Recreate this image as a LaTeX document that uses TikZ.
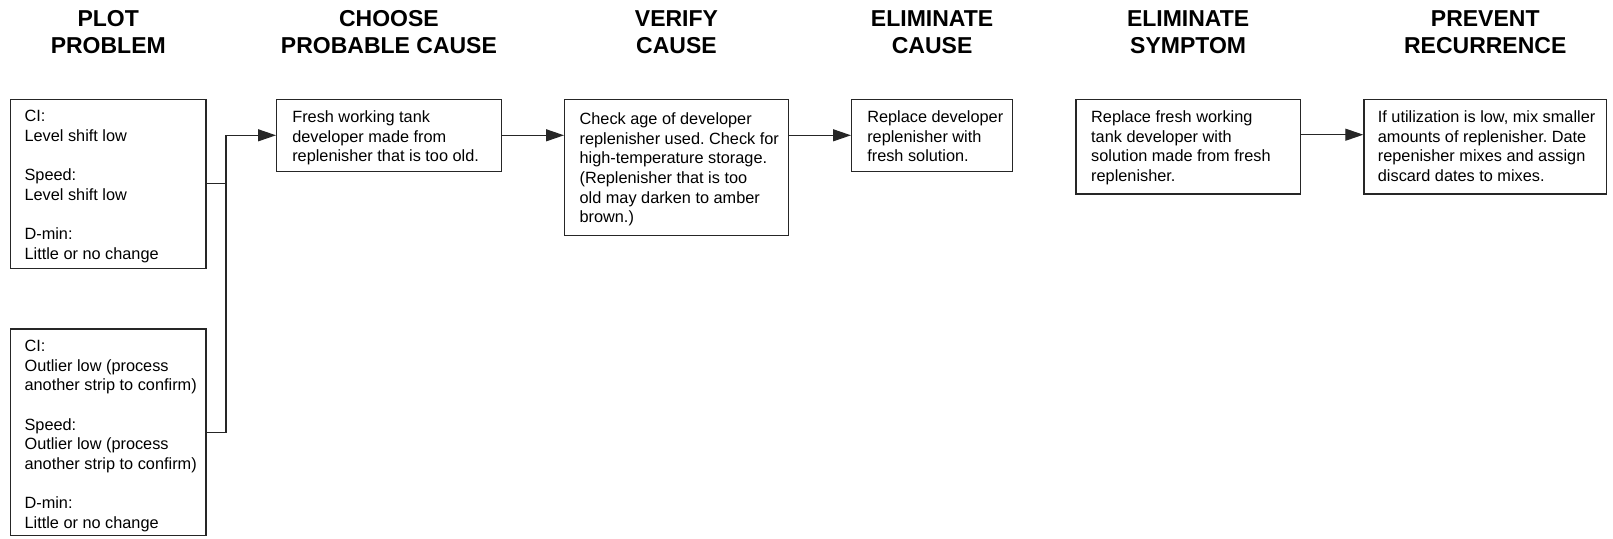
\documentclass[tikz,border=0pt]{standalone}
\usepackage{fontspec}
\setmainfont{Liberation Sans}
\usetikzlibrary{arrows.meta}

% body of a process box: left padding, width, height, text set from the top left
\newcommand{\boxbody}[4][14pt]{%
  \begin{minipage}[t][#3][t]{#2}%
    \fontsize{16.3}{19.6}\selectfont\frenchspacing\raggedright\leftskip=#1\relax
    #4%
  \end{minipage}}

\tikzset{
  heading/.style={anchor=north, inner sep=0pt, align=center,
    font=\fontsize{23}{26.7}\selectfont\bfseries},
  stepbox/.style={draw=black!85, line width=1.2pt, anchor=north west,
    inner xsep=0pt, inner ysep=11.3pt},
  flow/.style={draw=black!85, line width=1.2pt,
    -{Triangle[length=18pt,width=12pt]}},
  link/.style={draw=black!85, line width=1.2pt},
}

\begin{document}
\begin{tikzpicture}[x=1pt, y=-1pt]
  \useasboundingbox (0,0) rectangle (1613,538);

  % problem plots
  \node[stepbox] (p1) at (10,98.7) {\boxbody{195.3pt}{146.4pt}{%
    CI:\\Level shift low\\[19.6pt]
    Speed:\\Level shift low\\[19.6pt]
    D-min:\\Little or no change}};
  \node[stepbox] (p2) at (10,328.3) {\boxbody{195.3pt}{184.1pt}{%
    CI:\\Outlier low (process\\another strip to confirm)\\[19.8pt]
    Speed:\\Outlier low (process\\another strip to confirm)\\[19.8pt]
    D-min:\\Little or no change}};

  % cause and remedies
  \node[stepbox] (cause) at (276,98.7) {\boxbody[15.7pt]{224.7pt}{49.4pt}{%
    Fresh working tank\\developer made from\\replenisher that is too old.}};
  \node[stepbox] (verify) at (564,98.7) {\boxbody[15pt]{223.7pt}{113.7pt}{%
    \vspace*{2.2pt}%
    Check age of developer\\replenisher used. Check for\\high-temperature storage.\\
    (Replenisher that is too\\old may darken to amber\\brown.)}};
  \node[stepbox] (elimc) at (851,98.7) {\boxbody[15.7pt]{161pt}{49.4pt}{%
    Replace developer\\replenisher with\\fresh solution.}};
  \node[stepbox] (elims) at (1075.3,98.7) {\boxbody[15.3pt]{224.4pt}{72pt}{%
    Replace fresh working\\tank developer with\\solution made from fresh\\replenisher.}};
  \node[stepbox] (prev) at (1363.3,98.7) {\boxbody{242.7pt}{72pt}{%
    If utilization is low, mix smaller\\amounts of replenisher. Date\\
    repenisher mixes and assign\\discard dates to mixes.}};

  % column headings, centred over their boxes
  \node[heading] (h1) at (p1.north |- 0,10.5)    {PLOT\\PROBLEM};
  \node[heading] (h2) at (cause.north |- 0,10.5) {CHOOSE\\PROBABLE CAUSE};
  \node[heading] (h3) at (verify.north |- 0,10.5) {VERIFY\\CAUSE};
  \node[heading] (h4) at (elimc.north |- 0,10.5) {ELIMINATE\\CAUSE};
  \node[heading] (h5) at (elims.north |- 0,10.5) {ELIMINATE\\SYMPTOM};
  \node[heading] (h6) at (prev.north |- 0,10.5)  {PREVENT\\RECURRENCE};

  % junction joining both plots
  \path (cause.west) -- ++(-50,0) coordinate (j);

  % connectors
  \draw[link] (p2.east) -| (j);
  \draw[flow] (p1.east) -| (j) -- (cause.west);
  \draw[flow] (cause.east) -- (cause.east -| verify.west);
  \draw[flow] (elimc.west -| verify.east) -- (elimc.west);
  \draw[flow] ([yshift=-36pt]elims.north east) -- ([yshift=-36pt]prev.north west);
\end{tikzpicture}
\end{document}
